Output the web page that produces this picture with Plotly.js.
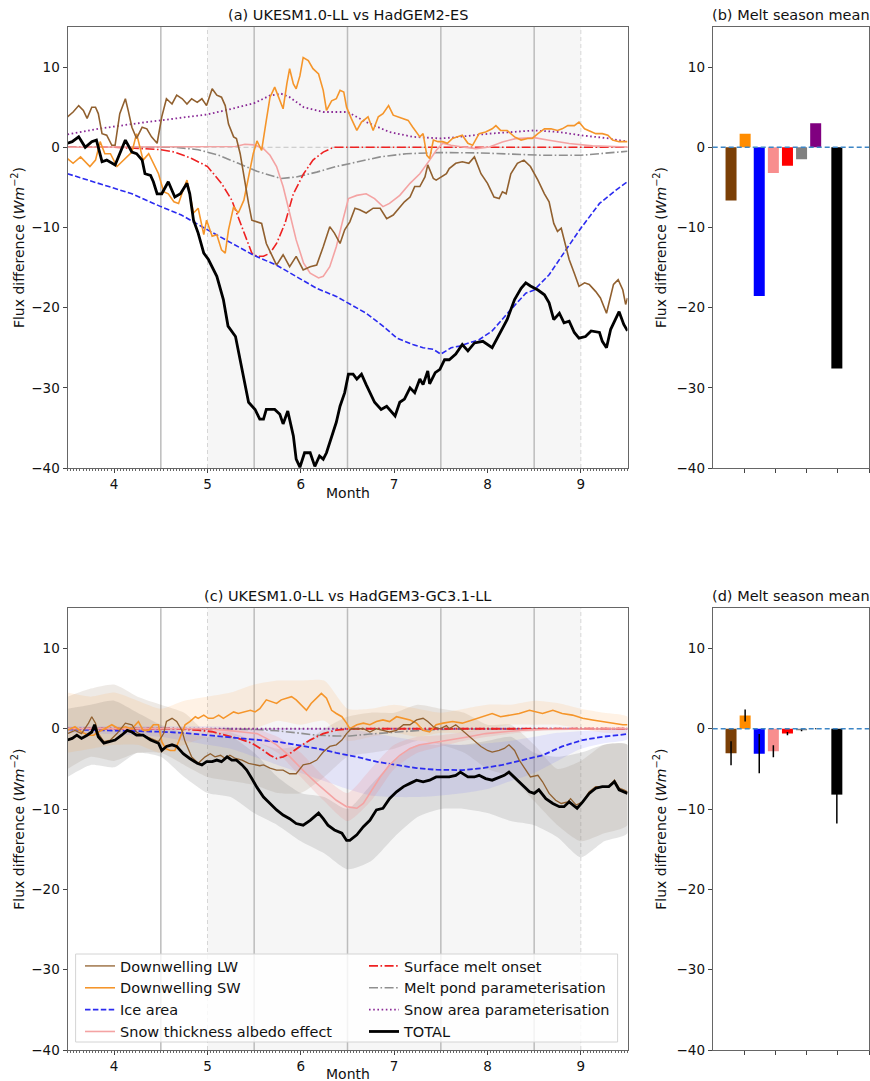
<!DOCTYPE html>
<html><head><meta charset="utf-8">
<script src="https://cdn.plot.ly/plotly-3.0.1.min.js"></script>
<style>html,body{margin:0;padding:0;background:#fff}#chart{width:870px;height:1081px}</style>
</head><body><div id="chart"></div>
<script>
// ---------- Panel (a): UKESM1.0-LL vs HadGEM2-ES ----------
const aTotalX = [3.5,3.55,3.62,3.69,3.76,3.81,3.87,3.92,4.01,4.12,4.19,4.24,4.30,4.33,4.39,4.42,4.46,4.51,4.58,4.65,4.71,4.78,4.81,4.85,4.90,4.96,5.01,5.10,5.17,5.22,5.30,5.35,5.39,5.44,5.51,5.56,5.60,5.63,5.72,5.775,5.81,5.86,5.92,5.95,5.99,6.04,6.10,6.15,6.20,6.24,6.275,6.33,6.38,6.42,6.47,6.51,6.56,6.60,6.65,6.70,6.79,6.86,6.92,7.01,7.06,7.11,7.17,7.22,7.275,7.31,7.36,7.38,7.44,7.49,7.54,7.59,7.66,7.73,7.79,7.86,7.95,8.05,8.14,8.21,8.29,8.36,8.41,8.46,8.54,8.61,8.66,8.71,8.77,8.82,8.875,8.93,8.98,9.05,9.11,9.20,9.23,9.275,9.32,9.375,9.41,9.46,9.5];
const aTotalY = [0.5,0.7,1.3,0.0,0.7,0.9,-1.8,-1.6,-2.2,0.9,-0.6,-0.8,-1.6,-3.3,-3.5,-4.3,-5.8,-5.8,-4.3,-6.2,-5.8,-4.5,-5.8,-9.1,-10.7,-13.2,-14.0,-16.1,-19.0,-22.3,-23.6,-26.5,-28.9,-31.8,-32.7,-33.9,-33.9,-32.7,-32.7,-33.3,-34.5,-32.9,-36.0,-38.9,-39.9,-38.1,-38.1,-39.8,-38.5,-38.9,-38.1,-36.0,-34.3,-32.3,-30.6,-28.3,-28.3,-28.9,-28.3,-29.6,-31.8,-32.7,-32.3,-33.5,-31.8,-31.4,-30.0,-30.6,-28.9,-29.6,-27.9,-29.5,-28.1,-27.7,-26.5,-26.5,-25.8,-24.6,-25.4,-24.4,-24.2,-25.0,-23.1,-21.5,-19.0,-17.6,-16.9,-17.3,-17.8,-18.4,-19.4,-21.5,-20.7,-21.9,-21.7,-23.1,-23.8,-23.6,-22.9,-23.1,-24.2,-25.0,-22.7,-21.3,-20.5,-22.1,-22.9];
const aLwX = [3.5,3.56,3.62,3.67,3.71,3.76,3.80,3.83,3.87,3.92,3.975,4.01,4.06,4.12,4.15,4.19,4.24,4.30,4.35,4.40,4.46,4.51,4.56,4.62,4.67,4.73,4.78,4.83,4.89,4.94,4.99,5.05,5.10,5.15,5.19,5.225,5.28,5.31,5.35,5.39,5.44,5.475,5.53,5.58,5.63,5.69,5.74,5.81,5.88,5.95,6.025,6.10,6.17,6.24,6.31,6.36,6.42,6.47,6.525,6.58,6.63,6.70,6.775,6.85,6.92,6.99,7.06,7.11,7.17,7.22,7.275,7.33,7.36,7.42,7.45,7.51,7.56,7.59,7.66,7.73,7.80,7.86,7.93,8.0,8.07,8.125,8.16,8.20,8.25,8.32,8.39,8.46,8.54,8.61,8.66,8.71,8.75,8.79,8.82,8.875,8.93,8.98,9.04,9.09,9.16,9.21,9.275,9.30,9.35,9.40,9.45,9.48,9.5];
const aLwY = [3.8,4.4,5.2,4.6,3.6,5.0,5.0,4.2,1.7,1.5,0.25,0.25,4.2,6.05,4.6,2.5,1.1,2.5,2.3,1.3,0.5,3.8,6.05,5.4,6.5,6.05,5.4,6.05,5.6,6.05,5.2,7.3,6.5,6.25,5.2,2.9,1.3,1.1,-0.8,-3.7,-7.0,-9.1,-9.3,-9.5,-12.0,-13.4,-14.7,-13.4,-14.9,-13.6,-15.3,-14.9,-14.7,-12.4,-9.9,-10.7,-12.0,-10.3,-9.3,-7.6,-7.8,-8.2,-7.6,-7.6,-8.9,-8.45,-7.4,-6.8,-6.2,-4.9,-4.9,-3.7,-2.2,-3.9,-4.1,-3.7,-3.3,-2.65,-2.0,-1.8,-2.0,-1.2,-3.3,-4.5,-6.2,-6.4,-5.55,-5.8,-3.3,-2.0,-1.6,-2.4,-4.1,-5.8,-6.8,-9.5,-10.5,-10.1,-11.55,-14.0,-15.7,-17.35,-16.9,-17.1,-18.0,-18.8,-20.7,-19.4,-17.1,-16.5,-17.8,-19.6,-18.8];
const aSwX = [3.5,3.56,3.64,3.69,3.74,3.80,3.85,3.90,3.96,4.03,4.08,4.14,4.19,4.24,4.28,4.31,4.37,4.42,4.475,4.53,4.58,4.64,4.69,4.74,4.78,4.81,4.85,4.90,4.96,4.99,5.05,5.10,5.15,5.19,5.225,5.28,5.33,5.39,5.44,5.49,5.53,5.58,5.63,5.67,5.72,5.76,5.81,5.85,5.88,5.92,5.95,5.99,6.025,6.08,6.13,6.19,6.24,6.275,6.33,6.38,6.42,6.46,6.49,6.54,6.60,6.65,6.72,6.775,6.83,6.88,6.94,6.99,7.04,7.10,7.15,7.20,7.275,7.31,7.35,7.38,7.42,7.47,7.52,7.57,7.625,7.68,7.73,7.79,7.84,7.91,7.98,8.05,8.09,8.14,8.21,8.29,8.36,8.43,8.48,8.54,8.61,8.68,8.75,8.80,8.86,8.93,8.98,9.04,9.11,9.16,9.23,9.29,9.34,9.41,9.5];
const aSwY = [-1.4,-2.0,-1.2,-1.8,-2.4,-1.6,0.7,-0.8,-0.8,-2.4,-1.8,-1.2,-0.6,1.7,0.0,-1.6,-0.8,-2.0,-3.3,-5.55,-5.8,-6.8,-7.0,-5.3,-4.1,-5.8,-8.2,-7.6,-10.9,-9.1,-11.1,-10.9,-12.8,-13.2,-10.3,-7.4,-8.2,-6.6,-3.7,-0.8,0.8,-0.4,3.35,6.25,7.5,6.25,4.8,7.9,9.8,7.9,7.3,8.9,11.2,10.8,9.8,9.15,7.1,4.6,5.8,6.05,7.1,6.9,5.0,3.6,2.1,3.15,3.8,2.1,3.8,4.2,5.2,4.0,3.8,3.6,3.35,2.5,1.3,1.7,-1.0,-1.4,0.9,0.7,0.7,0.5,1.1,1.3,1.5,0.5,0.25,1.7,1.9,2.3,2.7,2.1,2.1,1.3,0.9,1.1,1.1,1.7,2.3,2.3,2.1,2.3,2.7,2.7,3.15,2.3,1.9,1.7,1.7,1.5,0.9,0.7,0.7];
const aIceX = [3.5,3.83,4.19,4.5,4.72,5.0,5.26,5.5,5.74,5.95,6.17,6.38,6.5,6.7,6.88,7.03,7.2,7.31,7.42,7.5,7.61,7.7,7.91,8.05,8.23,8.41,8.5,8.66,8.84,9.0,9.2,9.38,9.5];
const aIceY = [-3.3,-4.5,-5.8,-7.4,-8.45,-10.3,-12.0,-13.5,-14.7,-16.1,-17.6,-18.6,-19.4,-20.7,-22.3,-23.8,-24.6,-25.0,-25.2,-25.8,-25.0,-24.8,-24.0,-22.9,-20.5,-18.2,-17.8,-15.9,-12.8,-10.1,-7.0,-5.3,-4.3];
const aSnowAreaX = [3.5,3.83,4.19,4.5,5.0,5.26,5.5,5.67,5.79,5.88,6.03,6.24,6.5,6.7,6.95,7.2,7.5,7.61,8.02,8.5,8.77,9.0,9.3,9.5];
const aSnowAreaY = [1.6,2.3,2.9,3.35,4.1,4.8,5.5,6.46,6.67,6.25,5.0,4.4,4.4,3.15,1.9,1.3,1.1,1.2,1.7,2.1,1.9,1.5,1.1,0.7];
const aMeltX = [3.5,4.0,4.3,4.5,4.65,4.83,5.0,5.15,5.26,5.37,5.475,5.53,5.6,5.67,5.74,5.83,5.92,6.03,6.13,6.24,6.35,9.5];
const aMeltY = [0,0,-0.17,-0.3,-0.6,-1.4,-2.4,-4.5,-6.6,-9.9,-13.2,-13.6,-13.6,-13.2,-12.0,-9.5,-5.8,-3.3,-1.6,-0.6,0,0];
const aPondX = [3.5,4.65,4.9,5.12,5.33,5.53,5.67,5.79,5.95,6.17,6.38,6.6,6.85,7.13,7.5,7.9,8.23,8.6,9.0,9.5];
const aPondY = [0,0,-0.3,-1.0,-2.0,-3.0,-3.5,-3.9,-3.7,-3.1,-2.4,-1.8,-1.2,-0.8,-0.66,-0.7,-0.87,-1.0,-1.0,-0.5];
const aSnowThX = [3.5,5.3,5.4,5.5,5.6,5.67,5.74,5.81,5.88,5.95,6.03,6.1,6.19,6.24,6.31,6.38,6.45,6.51,6.6,6.7,6.79,6.88,6.95,7.06,7.17,7.275,7.38,7.45,7.52,7.61,7.73,7.875,8.02,8.16,8.3,8.5,8.66,8.875,9.125,9.5];
const aSnowThY = [0,0.1,0.37,0.3,-0.17,-1.0,-2.4,-4.9,-8.2,-11.55,-14.45,-15.7,-16.3,-16.1,-14.9,-12.4,-9.1,-6.4,-6.0,-5.8,-6.4,-7.4,-7.0,-6.0,-4.5,-3.3,-1.6,-0.4,0.5,0.25,0.04,-0.17,0.04,0.66,1.08,1.2,0.87,0.46,0.17,0.04];

// ---------- Panel (c): UKESM1.0-LL vs HadGEM3-GC3.1-LL ----------
const cTotalX = [3.5,3.55,3.6,3.65,3.71,3.76,3.79,3.83,3.89,3.94,4.01,4.08,4.14,4.19,4.24,4.31,4.39,4.475,4.51,4.56,4.62,4.67,4.74,4.81,4.89,4.94,4.99,5.05,5.10,5.15,5.21,5.26,5.31,5.37,5.42,5.475,5.53,5.6,5.67,5.74,5.81,5.88,5.95,6.025,6.10,6.19,6.24,6.29,6.36,6.44,6.49,6.525,6.60,6.67,6.74,6.81,6.88,6.95,7.025,7.10,7.17,7.24,7.31,7.38,7.45,7.525,7.59,7.66,7.71,7.79,7.86,7.91,7.98,8.05,8.125,8.18,8.23,8.30,8.375,8.45,8.5,8.55,8.625,8.70,8.77,8.82,8.875,8.93,8.96,9.02,9.09,9.16,9.23,9.30,9.36,9.41,9.46,9.5];
const cTotalY = [-1.4,-1.2,-0.8,-1.2,-0.8,-0.4,0.5,-1.0,-1.8,-1.6,-1.4,-0.8,-0.2,-0.4,-0.8,-0.8,-1.4,-1.8,-2.7,-2.2,-2.0,-2.2,-3.1,-3.7,-4.3,-4.5,-4.1,-4.1,-3.9,-4.1,-3.5,-3.9,-3.9,-4.5,-5.15,-6.2,-7.3,-8.5,-9.3,-10.1,-10.75,-11.2,-11.8,-12.0,-11.4,-10.5,-11.2,-12.0,-12.6,-13.0,-13.9,-13.9,-13.2,-12.2,-11.4,-10.1,-9.9,-8.7,-7.85,-7.2,-6.8,-6.4,-6.6,-6.4,-6.0,-6.0,-6.0,-5.8,-5.4,-6.0,-6.0,-5.8,-6.2,-6.4,-6.0,-5.8,-5.4,-6.2,-7.0,-7.85,-8.05,-7.6,-8.7,-9.3,-9.7,-9.7,-9.1,-9.7,-9.9,-9.1,-8.05,-7.4,-7.2,-7.2,-6.6,-7.6,-7.85,-8.05];
const cLwX = [3.5,3.58,3.65,3.725,3.76,3.80,3.83,3.89,3.96,4.03,4.12,4.19,4.24,4.30,4.39,4.475,4.53,4.56,4.62,4.67,4.725,4.76,4.83,4.90,4.975,5.03,5.08,5.14,5.19,5.24,5.30,5.37,5.44,5.51,5.56,5.60,5.67,5.74,5.81,5.88,5.95,6.025,6.10,6.17,6.24,6.31,6.38,6.44,6.49,6.54,6.60,6.67,6.74,6.81,6.88,6.95,7.025,7.10,7.17,7.24,7.31,7.36,7.42,7.49,7.56,7.59,7.66,7.71,7.79,7.86,7.93,8.0,8.05,8.125,8.18,8.23,8.29,8.34,8.41,8.46,8.54,8.59,8.66,8.73,8.79,8.86,8.89,8.95,9.02,9.09,9.16,9.23,9.30,9.36,9.41,9.46,9.5];
const cLwY = [-0.6,-0.2,-0.6,0.7,1.5,0.7,-0.6,-1.6,-1.4,-0.6,0.7,0.5,-0.4,-0.8,-1.2,-1.6,-0.6,0.9,1.3,0.9,-0.2,-1.6,-3.5,-4.3,-3.5,-3.1,-3.5,-3.3,-3.7,-3.3,-3.7,-3.9,-4.3,-4.5,-4.6,-4.5,-4.9,-5.15,-5.15,-5.6,-5.6,-4.5,-4.3,-3.9,-2.9,-2.2,-2.0,-1.4,-0.6,0.0,0.0,0.0,-0.4,0.0,-0.2,-0.4,-0.2,0.5,0.5,1.1,1.3,0.9,0.25,0.0,0.4,0.0,0.5,0.0,-0.8,-1.6,-2.2,-2.7,-2.9,-2.7,-2.45,-2.0,-2.7,-3.9,-5.15,-6.0,-5.8,-6.6,-8.05,-8.9,-9.3,-9.1,-8.7,-9.5,-9.1,-7.85,-7.2,-7.2,-7.2,-6.4,-7.4,-7.6,-7.85];
const cSwX = [3.5,3.58,3.65,3.725,3.78,3.83,3.90,3.975,4.05,4.12,4.19,4.26,4.31,4.37,4.42,4.475,4.51,4.55,4.60,4.65,4.69,4.725,4.76,4.81,4.87,4.90,4.96,5.01,5.06,5.12,5.17,5.225,5.28,5.33,5.40,5.46,5.51,5.56,5.63,5.69,5.74,5.79,5.85,5.90,5.95,6.0,6.06,6.11,6.17,6.22,6.275,6.33,6.38,6.44,6.49,6.525,6.60,6.67,6.74,6.81,6.88,6.95,7.025,7.10,7.17,7.24,7.31,7.38,7.45,7.525,7.625,7.73,7.84,7.95,8.05,8.14,8.23,8.34,8.45,8.52,8.59,8.70,8.80,8.91,9.02,9.125,9.23,9.34,9.45,9.5];
const cSwY = [-0.2,0.25,-0.4,-0.8,-0.8,-0.4,0.0,0.5,0.0,0.25,0.0,0.9,-0.2,-0.2,0.5,0.5,-1.6,-2.45,-2.7,-2.7,-1.6,-0.6,0.5,0.9,1.5,1.3,1.7,1.3,1.3,1.7,1.3,1.7,2.1,1.9,2.1,2.3,2.1,2.5,3.6,3.4,3.15,3.6,3.8,4.0,3.6,2.95,2.3,3.15,3.8,4.4,3.8,2.3,1.9,1.5,0.7,0.0,0.5,0.7,0.5,0.9,1.1,0.9,1.5,1.3,1.1,0.7,-0.2,-0.4,0.5,0.7,0.9,0.7,1.1,1.5,1.9,1.5,1.7,1.9,2.3,2.1,1.9,2.3,1.9,1.7,1.3,1.1,0.9,0.7,0.5,0.5];
const cIceX = [3.5,3.83,4.19,4.5,4.72,5.0,5.26,5.53,5.74,5.95,6.17,6.38,6.6,6.81,7.03,7.24,7.45,7.6,7.73,7.95,8.16,8.375,8.59,8.8,9.02,9.23,9.5];
const cIceY = [-0.08,-0.17,-0.25,-0.37,-0.5,-0.8,-1.1,-1.4,-1.6,-2.0,-2.45,-3.0,-3.5,-4.1,-4.5,-4.9,-5.1,-5.15,-5.15,-4.9,-4.5,-3.9,-3.3,-2.2,-1.4,-1.0,-0.66];
const cMeltX = [3.5,4.65,4.9,5.05,5.19,5.33,5.475,5.56,5.6,5.67,5.74,5.81,5.88,5.99,6.1,6.24,6.38,6.525,9.5];
const cMeltY = [0,0,-0.17,-0.37,-0.8,-1.2,-1.8,-2.4,-2.7,-3.3,-3.7,-3.5,-3.1,-2.2,-1.4,-0.6,-0.17,0,0];
const cPondX = [3.5,5.0,5.3,5.525,5.74,5.95,6.17,6.38,6.525,6.74,7.03,7.31,7.61,9.5];
const cPondY = [0,0,-0.05,-0.1,-0.25,-0.5,-0.8,-0.9,-0.9,-0.66,-0.37,-0.17,-0.04,0];
const cSnowThX = [3.5,5.0,5.19,5.37,5.53,5.63,5.74,5.85,5.95,6.06,6.17,6.275,6.38,6.49,6.6,6.67,6.76,6.85,6.95,7.06,7.17,7.275,7.38,7.49,7.61,7.8,7.98,8.16,8.375,8.6,9.5];
const cSnowThY = [0,0,-0.17,-0.37,-0.6,-1.2,-2.0,-3.1,-4.3,-5.6,-6.8,-7.85,-8.9,-9.7,-9.9,-9.3,-7.6,-6.0,-4.5,-3.3,-2.45,-2.0,-1.8,-1.6,-1.3,-1.0,-0.6,-0.37,-0.17,-0.08,0];
const cSnowAreaX = [3.5,9.5];
const cSnowAreaY = [0,0];

// spread bands of panel (c)
const bandX   = [3.5,3.75,4.0,4.25,4.5,4.75,5.0,5.25,5.5,5.75,6.0,6.25,6.5,6.75,7.0,7.25,7.5,7.75,8.0,8.25,8.5,8.75,9.0,9.25,9.5];
const totalLo = [-6.0,-4.5,-4.8,-3.0,-3.5,-6.0,-8.0,-8.5,-10.5,-12.0,-14.0,-15.5,-17.5,-16.5,-13.5,-11.0,-10.0,-10.0,-10.5,-11.5,-12.0,-13.5,-16.0,-14.0,-13.0];
const totalHi = [2.5,3.0,3.5,2.0,0.5,-0.5,-1.0,-1.0,-3.0,-6.0,-8.0,-8.5,-10.0,-7.0,-4.0,-2.0,-2.0,-2.0,-1.5,-1.0,-3.0,-3.5,-3.0,-2.0,-2.0];
const lwLo    = [-5.0,-3.5,-4.0,-3.0,-3.0,-4.5,-6.0,-6.5,-7.0,-8.0,-8.0,-6.0,-3.5,-3.0,-2.5,-1.5,-2.0,-3.0,-5.0,-6.0,-9.0,-12.0,-14.0,-13.0,-12.0];
const lwHi    = [4.0,5.0,5.5,4.0,3.0,2.0,-0.5,-0.5,-1.5,-2.5,-2.0,0.0,1.5,2.0,2.0,3.0,2.5,2.0,0.5,0.5,-2.0,-5.0,-4.0,-2.0,-2.0];
const swLo    = [-3.0,-2.5,-2.0,-2.0,-3.0,-2.0,-1.0,-0.5,0.0,1.0,0.5,1.0,-1.5,-1.0,-0.5,-1.0,-0.5,-0.5,0.0,0.5,0.5,0.5,0.0,-0.5,-0.5];
const swHi    = [4.5,4.0,4.5,3.5,2.5,3.5,4.0,4.5,5.5,6.0,6.0,6.0,2.5,2.5,3.0,2.5,2.0,2.5,3.0,3.0,3.5,3.2,2.5,2.0,1.5];
const iceLo   = [-0.5,-0.6,-0.7,-0.8,-1.0,-1.5,-2.0,-2.5,-3.5,-4.5,-5.5,-6.5,-7.5,-8.3,-8.5,-8.5,-8.3,-8.0,-7.5,-6.5,-5.5,-4.0,-2.5,-1.8,-1.3];
const iceHi   = [0.3,0.3,0.3,0.3,0.3,0.3,0.3,0.2,0.0,0.0,0.0,0.0,0.0,-0.5,-1.0,-1.5,-1.8,-2.0,-1.8,-1.5,-1.0,-0.5,-0.3,-0.2,0.0];
const snowLo  = [0,0,0,0,0,0,-0.3,-0.8,-1.5,-3.0,-6.0,-9.0,-11.5,-9.0,-5.0,-3.0,-2.2,-1.5,-1.0,-0.6,-0.3,-0.1,0,0,0];
const snowHi  = [0,0,0,0,0,0,0,0,0,-1.0,-3.0,-6.0,-8.0,-5.0,-2.0,-1.0,-0.8,-0.4,0,0,0,0,0,0,0];

// ---------- Panels (b),(d): melt season means ----------
const barCategories = ["Downwelling LW","Downwelling SW","Ice area","Snow thickness albedo effect","Surface melt onset","Melt pond parameterisation","Snow area parameterisation","TOTAL"];
const barB = [-6.65,1.7,-18.55,-3.2,-2.3,-1.5,3.0,-27.6];
const barD = [-3.05,1.65,-3.1,-2.8,-0.6,-0.2,0.0,-8.2];
const errD = [1.5,0.75,2.45,0.75,0.2,0.1,0.05,3.6];
const monthTicks = [4,5,6,7,8,9];

// ---------- styling ----------
const C = {
  lw:'#91602f', sw:'#f5952a', ice:'#2b2bf0', snowTh:'#f4a3a3', melt:'#ee2222', pond:'#8f8f8f', snowArea:'#8a2a96', total:'#000000'
};
const barColors = ['#7b3f06','#ff8c00','#0000ff','#f88e8e','#ff0000','#808080','#800080','#000000'];
const barPos = barCategories.map((c,i)=> i<7 ? i : 7.5);

function line(x,y,color,width,dash,xa,ya,name,leg,rank){
  const t = {type:'scatter',mode:'lines',x:x,y:y,xaxis:xa,yaxis:ya,name:name,
    line:{color:color,width:width,dash:dash||'solid'},hoverinfo:'skip',showlegend:!!leg};
  if(leg){ t.legend = leg; t.legendrank = rank; }
  return t;
}
function band(lo,hi,color){
  return {type:'scatter',mode:'lines',x:bandX.concat(bandX.slice().reverse()),
    y:hi.concat(lo.slice().reverse()),fill:'toself',fillcolor:color,
    line:{width:0,shape:'spline',smoothing:0.6},xaxis:'x3',yaxis:'y3',showlegend:false,hoverinfo:'skip'};
}
const DASH = '5.5px,2.4px', DASHDOT='9px,2.5px,1.6px,2.5px', DOT='1.6px,2.6px';

const traces = [
  // panel a
  line(aPondX,aPondY,C.pond,1.6,DASHDOT,'x','y'),
  line(aMeltX,aMeltY,C.melt,1.6,DASHDOT,'x','y'),
  line(aSnowAreaX,aSnowAreaY,C.snowArea,1.8,DOT,'x','y'),
  line(aSnowThX,aSnowThY,C.snowTh,1.6,null,'x','y'),
  line(aIceX,aIceY,C.ice,1.6,DASH,'x','y'),
  line(aSwX,aSwY,C.sw,1.6,null,'x','y'),
  line(aLwX,aLwY,C.lw,1.6,null,'x','y'),
  line(aTotalX,aTotalY,C.total,2.8,null,'x','y'),
  // panel c bands
  band(lwLo,lwHi,'rgba(150,125,100,0.16)'),
  band(totalLo,totalHi,'rgba(130,130,130,0.22)'),
  band(swLo,swHi,'rgba(255,165,70,0.14)'),
  band(iceLo,iceHi,'rgba(110,110,255,0.14)'),
  band(snowLo,snowHi,'rgba(240,128,128,0.18)'),
  // panel c lines (these carry the two legend columns)
  line(cPondX,cPondY,C.pond,1.6,DASHDOT,'x3','y3','Melt pond parameterisation','legend2',2),
  line(cSnowAreaX,cSnowAreaY,C.snowArea,1.8,DOT,'x3','y3','Snow area parameterisation','legend2',3),
  line(cMeltX,cMeltY,C.melt,1.8,DASHDOT,'x3','y3','Surface melt onset','legend2',1),
  line(cIceX,cIceY,C.ice,1.8,DASH,'x3','y3','Ice area','legend',3),
  line(cSnowThX,cSnowThY,C.snowTh,1.6,null,'x3','y3','Snow thickness albedo effect','legend',4),
  line(cSwX,cSwY,C.sw,1.6,null,'x3','y3','Downwelling SW','legend',2),
  line(cLwX,cLwY,C.lw,1.3,null,'x3','y3','Downwelling LW','legend',1),
  line(cTotalX,cTotalY,C.total,2.8,null,'x3','y3','TOTAL','legend2',4),
  // bars
  {type:'bar',x:barPos,y:barB,width:0.78,marker:{color:barColors,line:{width:0}},xaxis:'x2',yaxis:'y2',showlegend:false,hoverinfo:'skip',hovertext:barCategories},
  {type:'bar',x:barPos,y:barD,width:0.78,marker:{color:barColors,line:{width:0}},xaxis:'x4',yaxis:'y4',showlegend:false,hoverinfo:'skip',hovertext:barCategories,
   error_y:{type:'data',array:errD,visible:true,color:'#000',thickness:1.5,width:0}}
];

const W=870,H=1081;
const xA=[67.5/W,627.5/W], xB=[712.7/W,869/W];
const yTop=[1-468/H,1-27/H], yBot=[1-1050/H,1-608.3/H];
const FONT={family:'DejaVu Sans, sans-serif',size:14,color:'#111'};
const TF={family:'DejaVu Sans, sans-serif',size:13.5,color:'#111'};
const LF={family:'DejaVu Sans, sans-serif',size:14.5,color:'#111'};
const ytitle='Flux difference (<i>Wm</i><sup>−2</sup>)';

function xMonth(dom,anchor){
  return {domain:dom,anchor:anchor,range:[3.5,9.5],tickmode:'array',tickvals:monthTicks,ticktext:monthTicks.map(String),
    ticks:'outside',ticklen:4,tickcolor:'#444',showline:true,mirror:true,linecolor:'#666',linewidth:1,
    showgrid:false,zeroline:false,tickfont:TF,automargin:false,
    minor:{dtick:1/30,tick0:3.5,ticks:'outside',ticklen:2,tickcolor:'#666',showgrid:false}};
}
function xBar(dom,anchor){
  return {domain:dom,anchor:anchor,range:[-1.3,9.78],tickmode:'array',tickvals:[0.92,3.13,5.35,7.57,9.78],
    showticklabels:false,ticks:'outside',ticklen:4,tickcolor:'#444',showline:true,mirror:true,linecolor:'#666',linewidth:1,
    showgrid:false,zeroline:false,automargin:false};
}
function yFlux(dom,anchor,so){
  return {domain:dom,anchor:anchor,range:[-40,15],tickmode:'linear',tick0:0,dtick:10,
    ticks:'outside',ticklen:4,tickcolor:'#444',showline:true,mirror:true,linecolor:'#666',linewidth:1,
    showgrid:false,zeroline:false,tickfont:TF,automargin:false,
    title:{text:ytitle,font:FONT,standoff:so}};
}

const shapes=[];
[['x','y'],['x3','y3']].forEach(([xr,yr])=>{
  shapes.push({type:'rect',xref:xr,yref:yr+' domain',x0:5,x1:9,y0:0,y1:1,fillcolor:'#f6f6f6',line:{width:0},layer:'below'});
  [4.5,5.5,6.5,7.5,8.5].forEach(v=>shapes.push({type:'line',xref:xr,yref:yr+' domain',x0:v,x1:v,y0:0,y1:1,line:{color:'#bcbcbc',width:1.5},layer:'below'}));
  [5,9].forEach(v=>shapes.push({type:'line',xref:xr,yref:yr+' domain',x0:v,x1:v,y0:0,y1:1,line:{color:'#d6d6d6',width:1,dash:'4px,3px'},layer:'below'}));
  shapes.push({type:'line',xref:xr+' domain',yref:yr,x0:0,x1:1,y0:0,y1:0,line:{color:'#c4c4c4',width:1,dash:'5px,3px'},layer:'below'});
});
[['x2','y2'],['x4','y4']].forEach(([xr,yr])=>{
  shapes.push({type:'line',xref:xr+' domain',yref:yr,x0:0,x1:1,y0:0,y1:0,line:{color:'#3d86c6',width:1.3,dash:'5px,3px'},layer:'above'});
});
// legend frame (the two legend columns sit inside it)
shapes.push({type:'rect',xref:'paper',yref:'paper',x0:75.6/W,x1:617.6/W,y0:1-1042/H,y1:1-954/H,
  fillcolor:'rgba(255,255,255,0.82)',line:{color:'#d4d4d4',width:1},layer:'above'});

function title(text,x,y){
  return {text:text,x:x,y:y,xref:'paper',yref:'paper',xanchor:'center',yanchor:'bottom',yshift:2,showarrow:false,font:{family:'DejaVu Sans, sans-serif',size:14.5,color:'#111'}};
}
function xlab(y){
  return {text:'Month',x:(xA[0]+xA[1])/2,y:y,xref:'paper',yref:'paper',xanchor:'center',yanchor:'middle',showarrow:false,font:FONT};
}
function legendCol(x){
  return {x:x,y:1-950/H,xref:'paper',yref:'paper',xanchor:'left',yanchor:'top',orientation:'v',
    bgcolor:'rgba(0,0,0,0)',borderwidth:0,font:LF,itemwidth:30,tracegroupgap:0,traceorder:'normal'};
}

const layout={
  width:W,height:H,margin:{l:0,r:0,t:0,b:0},paper_bgcolor:'#fff',plot_bgcolor:'#fff',
  font:FONT,showlegend:true,barmode:'overlay',
  xaxis:xMonth(xA,'y'), yaxis:yFlux(yTop,'x',3),
  xaxis2:xBar(xB,'y2'), yaxis2:yFlux(yTop,'x2',6),
  xaxis3:xMonth(xA,'y3'), yaxis3:yFlux(yBot,'x3',3),
  xaxis4:xBar(xB,'y4'), yaxis4:yFlux(yBot,'x4',6),
  shapes:shapes,
  annotations:[
    title('(a) UKESM1.0-LL vs HadGEM2-ES',(xA[0]+xA[1])/2,yTop[1]),
    title('(b) Melt season mean',(xB[0]+xB[1])/2,yTop[1]),
    title('(c) UKESM1.0-LL vs HadGEM3-GC3.1-LL',(xA[0]+xA[1])/2,yBot[1]),
    title('(d) Melt season mean',(xB[0]+xB[1])/2,yBot[1]),
    xlab(1-493/H),
    xlab(1-1074/H)
  ],
  legend:legendCol(80/W),
  legend2:legendCol(364/W)
};
Plotly.newPlot('chart',traces,layout,{staticPlot:true,displayModeBar:false});
</script></body></html>
